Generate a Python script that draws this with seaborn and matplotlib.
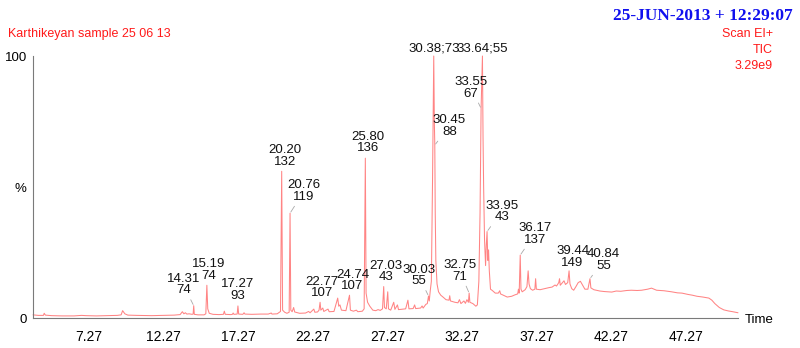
import numpy as np
import pandas as pd
import matplotlib
matplotlib.use("Agg")
import matplotlib.pyplot as plt
from matplotlib import font_manager
import seaborn as sns

# ---------------- data ----------------
trace_time = [
    3.55, 3.9, 4.25, 4.3, 4.38, 4.8, 5.5, 6.3, 6.8, 7.1, 7.8, 8.5, 9.2, 9.45, 9.55, 9.7, 9.9,
    10.5, 11.5, 12.3, 13.0, 13.4, 13.55, 13.65, 13.75, 13.85, 14.0, 14.2, 14.27, 14.31, 14.35,
    14.6, 15.0, 15.12, 15.19, 15.25, 15.35, 15.6, 16.0, 16.3, 16.36, 16.42, 16.8, 16.9, 16.95,
    17.0, 17.22, 17.27, 17.32, 17.6, 17.68, 17.74, 18.2, 18.8, 19.3, 19.5, 19.55, 19.9, 20.0,
    20.12, 20.20, 20.26, 20.4, 20.55, 20.7, 20.76, 20.81, 20.9, 21.0, 21.07, 21.4, 21.8, 22.0,
    22.1, 22.35, 22.42, 22.6, 22.7, 22.77, 22.82, 22.95, 23.02, 23.3, 23.38, 23.7, 23.95, 24.02,
    24.1, 24.2, 24.5, 24.74, 24.8, 25.0, 25.2, 25.3, 25.6, 25.72, 25.80, 25.85, 25.95, 26.1,
    26.3, 26.5, 26.65, 26.8, 26.95, 27.03, 27.08, 27.2, 27.3, 27.35, 27.5, 27.7, 27.78, 27.95,
    28.02, 28.2, 28.5, 28.65, 28.72, 29.0, 29.1, 29.17, 29.5, 29.6, 29.67, 29.85, 29.95, 30.03,
    30.08, 30.15, 30.22, 30.30, 30.34, 30.38, 30.42, 30.45, 30.48, 30.52, 30.6, 30.7, 30.85,
    31.0, 31.2, 31.4, 31.45, 31.5, 31.8, 32.0, 32.1, 32.2, 32.4, 32.5, 32.6, 32.7, 32.75, 32.8,
    33.0, 33.2, 33.3, 33.4, 33.48, 33.55, 33.60, 33.64, 33.68, 33.72, 33.78, 33.85, 33.9, 33.95,
    34.0, 34.05, 34.1, 34.18, 34.3, 34.5, 34.7, 34.8, 34.85, 35.0, 35.3, 35.6, 35.8, 36.0,
    36.05, 36.1, 36.17, 36.22, 36.3, 36.5, 36.62, 36.7, 36.76, 36.85, 37.0, 37.15, 37.2, 37.25,
    37.5, 37.8, 38.1, 38.3, 38.5, 38.6, 38.75, 38.8, 38.85, 39.0, 39.1, 39.2, 39.35, 39.44,
    39.5, 39.62, 39.75, 39.9, 40.05, 40.2, 40.35, 40.5, 40.7, 40.84, 40.9, 41.1, 41.5, 41.8,
    42.3, 42.6, 42.9, 43.3, 43.6, 44.0, 44.3, 44.7, 44.96, 45.3, 45.8, 46.3, 46.7, 47.0, 47.4,
    47.7, 48.0, 48.4, 48.8, 49.0, 49.2, 49.5, 49.8, 50.1, 50.4, 50.75,
]
trace_intensity = [
    1.2, 1.0, 1.0, 1.8, 1.1, 0.9, 0.8, 0.8, 1.0, 0.9, 0.8, 0.9, 1.0, 1.2, 2.8, 1.6, 1.1,
    1.0, 0.9, 1.0, 1.1, 1.3, 2.4, 1.6, 2.0, 1.5, 1.6, 1.4, 1.5, 4.7, 1.4,
    1.2, 1.2, 1.6, 12.5, 3.5, 1.8, 1.4, 1.3, 1.4, 2.6, 1.4, 1.3, 1.4, 1.9,
    1.4, 1.5, 4.6, 1.5, 1.4, 2.0, 1.5, 1.4, 1.5, 1.5, 1.9, 1.5, 1.6, 2.0,
    2.5, 56.0, 3.0, 2.2, 1.8, 2.2, 40.0, 3.0, 2.4, 4.0, 2.3, 1.8, 1.9, 2.5,
    2.0, 3.4, 2.2, 2.3, 3.0, 6.0, 3.0, 3.8, 2.5, 3.4, 2.4, 2.5, 7.6, 4.5,
    5.0, 3.0, 2.8, 8.7, 3.0, 2.6, 3.0, 2.4, 2.6, 3.5, 61.0, 9.5, 6.0, 4.5,
    3.0, 2.8, 3.2, 2.9, 3.5, 12.0, 4.0, 3.5, 10.0, 3.5, 3.0, 6.0, 3.3, 5.0,
    3.2, 3.3, 3.5, 6.8, 3.5, 3.6, 5.0, 3.6, 3.8, 4.6, 3.8, 5.2, 5.5, 8.4,
    6.5, 10.6, 14.0, 53.0, 77.0, 100.0, 75.0, 66.0, 40.0, 22.0, 13.0, 10.0, 8.7,
    8.0, 7.0, 6.8, 8.5, 6.5, 6.0, 5.8, 7.0, 5.5, 6.5, 5.6, 7.0, 6.0, 9.5, 6.0,
    5.5, 4.5, 5.0, 14.0, 40.0, 80.0, 92.0, 100.0, 69.0, 50.0, 30.0, 20.0, 28.0, 33.0,
    22.0, 26.0, 18.0, 11.0, 10.5, 9.5, 9.5, 10.4, 9.2, 8.8, 8.0, 8.3, 8.8, 9.2,
    11.0, 9.5, 24.0, 11.0, 10.0, 10.8, 12.0, 18.0, 13.0, 11.2, 10.6, 11.0, 15.0, 11.0,
    10.8, 11.2, 11.6, 11.8, 12.6, 12.2, 13.5, 15.0, 12.5, 13.5, 14.2, 12.8, 13.5, 18.0,
    13.0, 11.2, 10.6, 12.0, 13.5, 14.0, 12.5, 11.0, 11.0, 15.0, 11.5, 10.8, 10.3, 10.1,
    9.9, 10.3, 10.2, 10.5, 10.6, 10.5, 10.6, 11.0, 11.4, 10.6, 10.4, 10.0, 9.6, 9.5, 9.0,
    8.7, 8.3, 8.0, 7.6, 6.8, 5.5, 4.0, 3.1, 2.7, 2.4, 2.0,
]

peak_rt = [14.31, 15.19, 17.27, 20.20, 20.76, 22.77, 24.74, 25.80, 27.03, 30.03,
           30.38, 30.45, 32.75, 33.55, 33.64, 33.95, 36.17, 39.44, 40.84]
peak_mz = [74, 74, 93, 132, 119, 107, 107, 136, 43, 55,
           73, 88, 71, 67, 55, 43, 137, 149, 55]
peak_height = [4.7, 12.5, 4.6, 56, 40, 6.0, 8.7, 61, 12, 8.4,
               100, 66, 9.5, 80, 100, 33, 24, 18, 15]

x_tick_values = [7.27, 12.27, 17.27, 22.27, 27.27, 32.27, 37.27, 42.27, 47.27]
x_tick_labels = ["7.27", "12.27", "17.27", "22.27", "27.27", "32.27", "37.27", "42.27", "47.27"]
y_tick_values = [0, 50, 100]
y_tick_labels = ["0", "%", "100"]

title_left = "Karthikeyan sample 25 06 13"
title_date = "25-JUN-2013 + 12:29:07"
info_lines = ["Scan EI+", "TIC", "3.29e9"]
x_axis_name = "Time"

# ---------------- layout / style ----------------
# label offsets from peak tops in pixels (dx, dy up), inline label flag
label_offsets = [(-10.5, 21), (1.5, 15), (0, 16), (3.5, 15.5), (14, 22), (2, 15), (3, 14.5),
                 (3, 15.5), (2, 15), (-10, 20.5), (0, 8), (14.5, 19), (-9.5, 22), (-10, 20.5),
                 (0, 8), (14.5, 20), (14.5, 21), (3.5, 14), (13.5, 18.5)]
inline_label = [False] * 10 + [True] + [False] * 3 + [True] + [False] * 4

sns.set_style("white")
names = {f.name for f in font_manager.fontManager.ttflist}
sans = "Liberation Sans" if "Liberation Sans" in names else "DejaVu Sans"
narrow = "Liberation Sans Narrow" if "Liberation Sans Narrow" in names else sans
plt.rcParams["font.family"] = [sans, "DejaVu Sans"]

fig = plt.figure(figsize=(8.0, 3.48), dpi=100)
ax = fig.add_axes([0.04125, 0.0862, 0.9225 - 0.04125, 0.839 - 0.0862])

df = pd.DataFrame({"time": trace_time, "intensity": trace_intensity})
sns.lineplot(data=df, x="time", y="intensity", ax=ax, estimator=None, sort=False,
             color="#ff8484", linewidth=0.75, clip_on=False)

ax.set_xlim(3.55, 50.75)
ax.set_ylim(0, 100)
ax.set_xlabel("")
ax.set_ylabel("")

for s in ["top", "right"]:
    ax.spines[s].set_visible(False)
for s in ["left", "bottom"]:
    ax.spines[s].set_color("#7a7a7a")
    ax.spines[s].set_linewidth(0.8)

ax.set_xticks(x_tick_values)
ax.set_xticklabels(x_tick_labels, fontsize=10, family=narrow, color="black")
minor = np.arange(3.77, 50.76, 0.5)
ax.set_xticks(minor, minor=True)
ax.set_yticks(y_tick_values)
ax.set_yticklabels(y_tick_labels, fontsize=9.5, color="black")
ax.set_yticks(np.arange(0, 101, 10), minor=True)
ax.tick_params(axis="x", which="major", length=4.5, width=0.7, color="#7a7a7a", pad=4, direction="out")
ax.tick_params(axis="x", which="minor", length=3, width=0.7, color="#7a7a7a", direction="out")
ax.tick_params(axis="y", which="both", length=2.5, width=0.7, color="#7a7a7a", pad=2, direction="out")

# peak labels
for rt, mz, h, (dx, dy), inl in zip(peak_rt, peak_mz, peak_height, label_offsets, inline_label):
    txt = f"{rt:.2f};{mz}" if inl else f"{rt:.2f}\n{mz}"
    arrow = None
    if abs(dx) >= 9:
        arrow = dict(arrowstyle="-", color="#a8a8a8", lw=0.6, shrinkA=0, shrinkB=1)
    ax.annotate(txt, xy=(rt, h), xytext=(dx, dy), textcoords="offset pixels",
                ha="center", va="center", fontsize=9.5, linespacing=0.95, color="#111111",
                arrowprops=arrow, annotation_clip=False)

# header texts
fig.text(8 / 800, 1 - 34 / 348, title_left, color="#ff1a1a", fontsize=9, ha="left", va="center")
fig.text(793 / 800, 1 - 16 / 348, title_date, color="#1010ee", fontsize=12.5, fontweight="bold",
         family=["Liberation Serif", "DejaVu Serif"], ha="right", va="center")
for i, line in enumerate(info_lines):
    fig.text(773 / 800, 1 - (34 + 16 * i) / 348, line, color="#ff1a1a", fontsize=9,
             ha="right", va="center")
fig.text(745 / 800, 1 - 320 / 348, x_axis_name, color="black", fontsize=9.5, ha="left", va="center")

fig.savefig("out.png", dpi=100)
